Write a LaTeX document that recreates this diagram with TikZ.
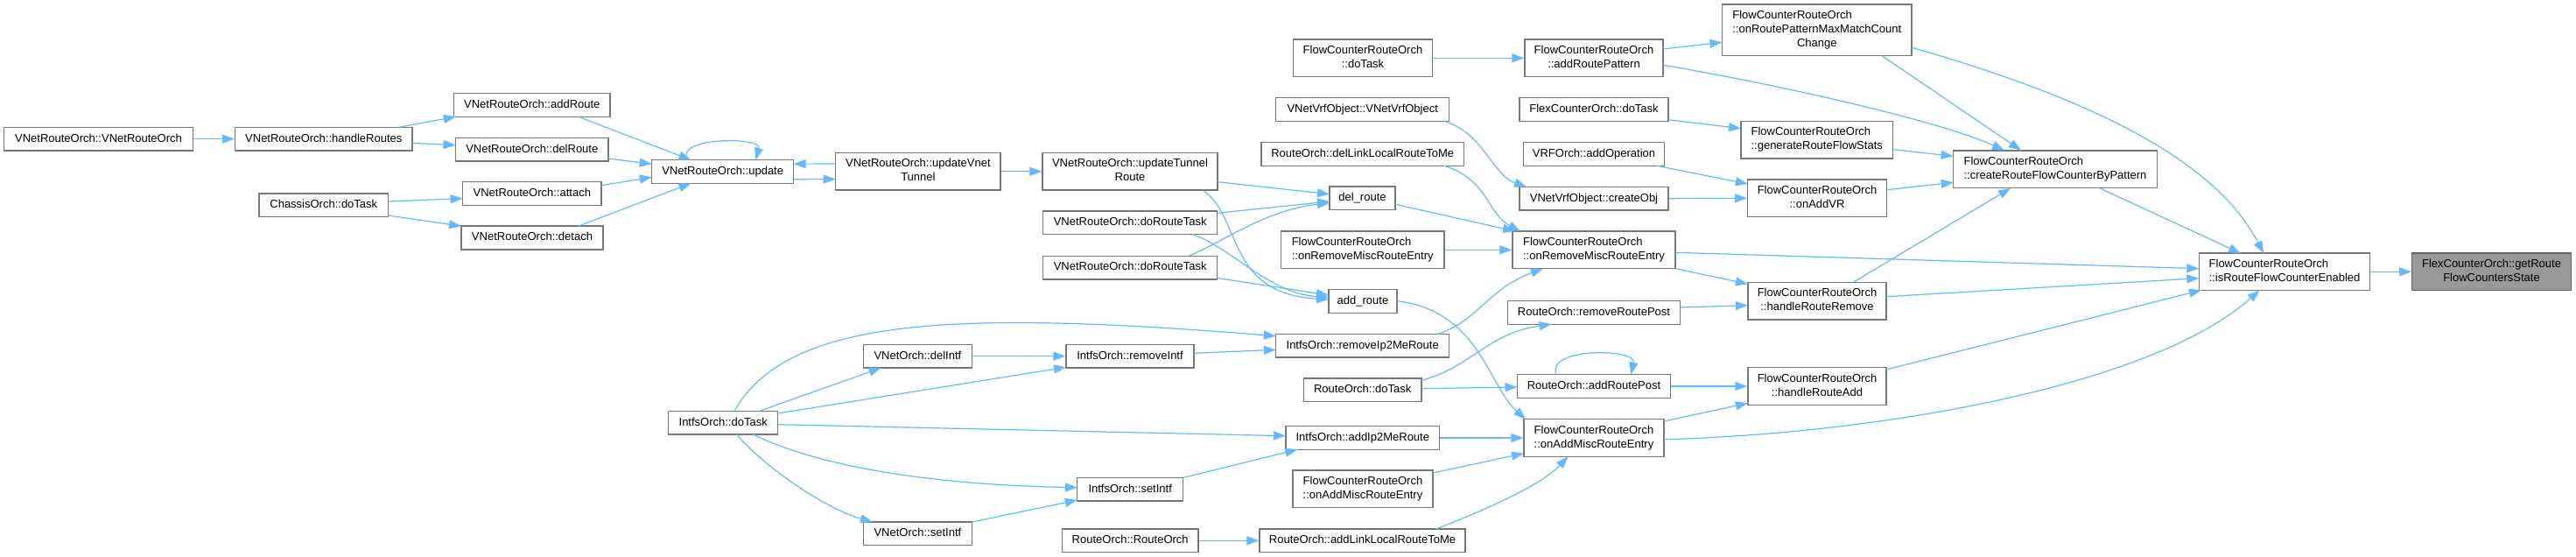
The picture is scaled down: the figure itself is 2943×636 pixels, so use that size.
\documentclass[tikz,border=0pt]{standalone}
\usepackage{fontspec}
\setmainfont{Liberation Sans}
\usetikzlibrary{arrows.meta,calc}
\definecolor{edgeblue}{HTML}{63B8FF}
\definecolor{nodeborder}{HTML}{777777}
\definecolor{hilite}{HTML}{999999}
\newcommand{\nodefont}{\fontsize{13pt}{16pt}\selectfont}
\newcommand{\dlab}[2]{\begin{tabular}{@{}l@{}}#1\\\multicolumn{1}{@{}c@{}}{#2}\end{tabular}}
\begin{document}
\begin{tikzpicture}[x=1pt,y=-1pt,
  nbox/.style={draw=nodeborder, line width=1.3pt, fill=white, inner sep=0pt, font=\nodefont, anchor=center},
  n1/.style={nbox, minimum height=26.7pt, text height=9.5pt, text depth=2.7pt},
  n2/.style={nbox, minimum height=42.7pt},
  n3/.style={nbox, minimum height=58.7pt},
  conn/.style={draw=edgeblue, line width=1.2pt, -{Triangle[length=14pt,width=10pt]}}
]
\useasboundingbox (0,0) rectangle (2943,636);

% nodes
\node[n1, minimum width=215.7] (vro) at (112.5,158.7) {VNetRouteOrch::VNetRouteOrch};
\node[n1, minimum width=202.5] (hr) at (369.8,158.7) {VNetRouteOrch::handleRoutes};
\node[n1, minimum width=178.4] (addR) at (607.8,120) {VNetRouteOrch::addRoute};
\node[n1, minimum width=174.5] (delR) at (607.8,170.7) {VNetRouteOrch::delRoute};
\node[n1, minimum width=147.6] (chas) at (369.8,234.5) {ChassisOrch::doTask};
\node[n1, minimum width=158.5] (att) at (607.8,221.2) {VNetRouteOrch::attach};
\node[n1, minimum width=162] (det) at (608,271.5) {VNetRouteOrch::detach};
\node[n1, minimum width=162] (upd) at (825.7,196) {VNetRouteOrch::update};
\node[n2, minimum width=188.3] (uvt) at (1048.9,195.8) {\dlab{VNetRouteOrch::updateVnet}{Tunnel}};
\node[n2, minimum width=200] (utr) at (1291,195.8) {\dlab{VNetRouteOrch::updateTunnel}{Route}};
\node[n1, minimum width=199] (drt1) at (1291.2,254.5) {VNetRouteOrch::doRouteTask};
\node[n1, minimum width=199] (drt2) at (1291.2,305.5) {VNetRouteOrch::doRouteTask};
\node[n2, minimum width=158.6] (fcdo) at (1557,66.3) {\dlab{FlowCounterRouteOrch}{::doTask}};
\node[n2, minimum width=158] (arp) at (1821,66.3) {\dlab{FlowCounterRouteOrch}{::addRoutePattern}};
\node[n3, minimum width=216.5] (rpm) at (2075.8,34.3) {\begin{tabular}{@{}l@{}}FlowCounterRouteOrch\\::onRoutePatternMaxMatchCount\\\multicolumn{1}{@{}c@{}}{Change}\end{tabular}};
\node[n1, minimum width=197.8] (vvo) at (1556.7,125) {VNetVrfObject::VNetVrfObject};
\node[n1, minimum width=170] (fxdo) at (1821,125) {FlexCounterOrch::doTask};
\node[n2, minimum width=173.4] (grfs) at (2075.7,159.7) {\dlab{FlowCounterRouteOrch}{::generateRouteFlowStats}};
\node[n1, minimum width=231.7] (dllr) at (1556.7,176) {RouteOrch::delLinkLocalRouteToMe};
\node[n1, minimum width=161] (vrfa) at (1821,176) {VRFOrch::addOperation};
\node[n2, minimum width=158.5] (oavr) at (2076,226.3) {\dlab{FlowCounterRouteOrch}{::onAddVR}};
\node[n1, minimum width=75] (delr) at (1556.5,226.3) {del\_route};
\node[n1, minimum width=170] (cobj) at (1821,226.7) {VNetVrfObject::createObj};
\node[n2, minimum width=186.5] (ormL) at (1556.7,285.3) {\dlab{FlowCounterRouteOrch}{::onRemoveMiscRouteEntry}};
\node[n2, minimum width=186] (ormM) at (1821,285.3) {\dlab{FlowCounterRouteOrch}{::onRemoveMiscRouteEntry}};
\node[n2, minimum width=232.7] (crfc) at (2348,193.3) {\dlab{FlowCounterRouteOrch}{::createRouteFlowCounterByPattern}};
\node[n2, minimum width=195.4] (isr) at (2610,310.3) {\dlab{FlowCounterRouteOrch}{::isRouteFlowCounterEnabled}};
\node[n2, minimum width=181.6, fill=hilite, draw=black!60] (gr) at (2846.5,310.3) {\dlab{FlexCounterOrch::getRoute}{FlowCountersState}};
\node[n1, minimum width=125] (idt) at (826.2,482.7) {IntfsOrch::doTask};
\node[n1, minimum width=124.2] (vdel) at (1048.4,406.7) {VNetOrch::delIntf};
\node[n1, minimum width=146] (rmi) at (1291,406.7) {IntfsOrch::removeIntf};
\node[n1, minimum width=197.8] (rip) at (1556.7,394.7) {IntfsOrch::removeIp2MeRoute};
\node[n1, minimum width=120.8] (setI) at (1291.2,558.7) {IntfsOrch::setIntf};
\node[n1, minimum width=124.2] (vset) at (1048.4,609.3) {VNetOrch::setIntf};
\node[n1, minimum width=155.7] (rro) at (1291.2,617.3) {RouteOrch::RouteOrch};
\node[n1, minimum width=175.7] (aip) at (1556.8,500) {IntfsOrch::addIp2MeRoute};
\node[n2, minimum width=160] (oamL) at (1557,558.3) {\dlab{FlowCounterRouteOrch}{::onAddMiscRouteEntry}};
\node[n1, minimum width=235] (allr) at (1556.5,617.3) {RouteOrch::addLinkLocalRouteToMe};
\node[n1, minimum width=78] (addr) at (1557,344) {add\_route};
\node[n1, minimum width=196.8] (rrp) at (1821,357) {RouteOrch::removeRoutePost};
\node[n2, minimum width=158.2] (hrr) at (2076,343.7) {\dlab{FlowCounterRouteOrch}{::handleRouteRemove}};
\node[n1, minimum width=134.6] (rdt) at (1556.7,445.3) {RouteOrch::doTask};
\node[n1, minimum width=175] (arp2) at (1821,441) {RouteOrch::addRoutePost};
\node[n2, minimum width=158.2] (hra) at (2076,441) {\dlab{FlowCounterRouteOrch}{::handleRouteAdd}};
\node[n2, minimum width=160] (oamM) at (1821,500) {\dlab{FlowCounterRouteOrch}{::onAddMiscRouteEntry}};

% connectors
\draw[conn] (vro.east) -- (hr.west);
\draw[conn] ($(hr)+(85.6,-13.4)$) -- ($(addR)+(-87,13.3)$);
\draw[conn] ($(hr)+(101.2,4.6)$) -- ($(delR)+(-87.2,-5)$);
\draw[conn] ($(chas)+(73.8,-4.5)$) -- ($(att)+(-79.2,5.5)$);
\draw[conn] ($(chas)+(73.8,11.5)$) -- ($(det)+(-81,-13.3)$);
\draw[conn] ($(addR)+(53,13.3)$) -- ($(upd)+(-36.2,-13.3)$);
\draw[conn] ($(delR)+(87.2,10.3)$) -- ($(upd)+(-81,-8.7)$);
\draw[conn] ($(att)+(79.2,-9.5)$) -- ($(upd)+(-81,6.3)$);
\draw[conn] ($(det)+(52.7,-13.3)$) -- ($(upd)+(-36.2,13.3)$);
\draw[conn] ($(upd)+(-40.7,-13.3)$) .. controls ($(upd)+(-55,-40)$) and ($(upd)+(45,-40)$) .. ($(upd)+(37.6,-13.3)$);
\draw[conn] ($(uvt)+(-94.2,-8.8)$) -- ($(upd)+(81,-8.8)$);
\draw[conn] ($(upd)+(81,8.7)$) -- ($(uvt)+(-94.2,8.7)$);
\draw[conn] (uvt.east) -- (utr.west);
\draw[conn] ($(utr)+(100,11.9)$) -- ($(delr)+(-37.5,-4.6)$);
\draw[conn] ($(drt1)+(99.6,-11.2)$) -- ($(delr)+(-37.5,3.7)$);
\draw[conn] ($(drt2)+(67,-13.3)$) .. controls (1400,275) and (1445,240) .. ($(delr)+(-37.5,5.4)$);
\draw[conn] ($(utr)+(83.7,21.5)$) .. controls (1420,250) and (1400,335) .. ($(addr)+(-39,-2)$);
\draw[conn] ($(drt1)+(71.8,13.3)$) .. controls (1410,285) and (1450,335) .. ($(addr)+(-39,-4.5)$);
\draw[conn] ($(drt2)+(99.6,12)$) -- ($(addr)+(-39,-7)$);
\draw[conn] ($(delr)+(37.5,7)$) -- ($(ormM)+(-90,-21.3)$);
\draw[conn] ($(addr)+(39,-0.3)$) .. controls (1690,355) and (1700,440) .. ($(oamM)+(-78,-21.3)$);
\draw[conn] (fcdo.east) -- (arp.west);
\draw[conn] ($(arp)+(79,-10.3)$) -- ($(rpm)+(-108.3,14)$);
\draw[conn] ($(arp)+(79,8)$) .. controls (2050,100) and (2220,140) .. ($(crfc)+(-58,-21.6)$);
\draw[conn] ($(rpm)+(74.2,29.3)$) -- ($(crfc)+(-39,-21.6)$);
\draw[conn] ($(rpm)+(108.3,20)$) .. controls (2380,110) and (2530,180) .. ($(isr)+(-24,-21)$);
\draw[conn] ($(vvo)+(93.3,13.3)$) .. controls (1695,152) and (1705,200) .. ($(cobj)+(-77,-13.3)$);
\draw[conn] ($(fxdo)+(85,11.7)$) -- ($(grfs)+(-86.7,-13)$);
\draw[conn] ($(grfs)+(86.7,11)$) -- ($(crfc)+(-116.3,-15)$);
\draw[conn] ($(dllr)+(93.3,13.3)$) .. controls (1700,205) and (1700,245) .. ($(ormM)+(-84,-21.3)$);
\draw[conn] ($(vrfa)+(72,13.3)$) -- ($(oavr)+(-79.2,-16.3)$);
\draw[conn] (cobj.east) -- (oavr.west);
\draw[conn] ($(oavr)+(79.2,-9.6)$) -- ($(crfc)+(-116.3,15)$);
\draw[conn] (ormL.east) -- (ormM.west);
\draw[conn] ($(ormM)+(93,3)$) -- ($(isr)+(-97.7,-3.6)$);
\draw[conn] ($(ormM)+(93,21.3)$) -- ($(hrr)+(-79.1,-19.4)$);
\draw[conn] ($(rip)+(86.3,-13.3)$) .. controls (1690,365) and (1700,330) .. ($(ormM)+(-58,21.3)$);
\draw[conn] ($(rrp)+(98.4,-6)$) -- ($(hrr)+(-79.1,5)$);
\draw[conn] ($(hrr)+(41,-21.3)$) -- ($(crfc)+(-51,21.6)$);
\draw[conn] ($(hrr)+(79.1,-5)$) -- ($(isr)+(-97.7,7.4)$);
\draw[conn] ($(rdt)+(67.3,-11)$) .. controls (1680,420) and (1700,380) .. ($(rrp)+(-48.4,13.3)$);
\draw[conn] ($(rdt)+(67.3,-1.6)$) -- ($(arp2)+(-87.5,1)$);
\draw[conn] ($(arp2)+(-42.7,-13.3)$) .. controls ($(arp2)+(-57,-44)$) and ($(arp2)+(49,-44)$) .. ($(arp2)+(42.3,-13.3)$);
\draw[conn] (arp2.east) -- (hra.west);
\draw[conn] ($(oamM)+(80,-19)$) -- ($(hra)+(-79.1,19.3)$);
\draw[conn] ($(oamM)+(80,1.7)$) .. controls (2150,495) and (2460,440) .. ($(isr)+(-28.5,21)$);
\draw[conn] ($(hra)+(79.1,-19)$) -- ($(isr)+(-95,21)$);
\draw[conn] ($(crfc)+(51,21.6)$) -- ($(isr)+(-50,-21)$);
\draw[conn] (isr.east) -- (gr.west);
\draw[conn] (aip.east) -- (oamM.west);
\draw[conn] ($(oamL)+(80,-18.3)$) -- ($(oamM)+(-80,17.7)$);
\draw[conn] ($(allr)+(84,-13.3)$) .. controls (1690,585) and (1760,555) .. ($(oamM)+(-29.5,21.3)$);
\draw[conn] (rro.east) -- (allr.west);
\draw[conn] ($(idt)+(41.2,-13.3)$) -- ($(vdel)+(-41.8,13.3)$);
\draw[conn] ($(idt)+(62.5,-10.7)$) -- ($(rmi)+(-73,12.6)$);
\draw[conn] ($(idt)+(12.8,-13.3)$) .. controls (900,360) and (1100,355) .. ($(rip)+(-98.9,-11)$);
\draw[conn] ($(idt)+(62.5,2)$) -- ($(aip)+(-87.8,-2.3)$);
\draw[conn] ($(idt)+(34.1,13.3)$) .. controls (930,530) and (1050,553) .. ($(setI)+(-60.4,-2)$);
\draw[conn] ($(idt)+(15.3,13.3)$) .. controls (870,530) and (940,580) .. ($(vset)+(-51.4,-13.3)$);
\draw[conn] (vdel.east) -- (rmi.west);
\draw[conn] ($(rmi)+(73,-3.4)$) -- ($(rip)+(-98.9,4.6)$);
\draw[conn] ($(vset)+(62.1,-13.3)$) -- ($(setI)+(-60.4,12.3)$);
\draw[conn] ($(setI)+(60.4,-13.3)$) -- ($(aip)+(-74.4,13.3)$);
\end{tikzpicture}
\end{document}
